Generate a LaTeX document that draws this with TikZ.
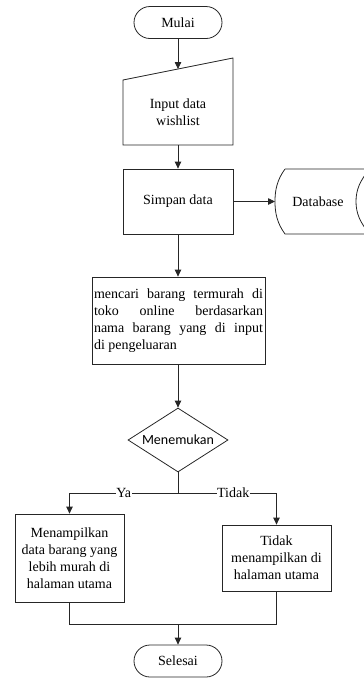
\documentclass[tikz,border=0pt]{standalone}
\usepackage{fontspec}
\setmainfont{Liberation Serif}
\newfontfamily\calibri{Carlito}
\usetikzlibrary{arrows.meta,shapes.geometric,calc}
\begin{document}
\begin{tikzpicture}[x=1pt,y=-1pt,
  every node/.style={font=\fontsize{14}{17}\selectfont, text=black},
  ln/.style={draw=black!85, line width=0.8pt},
  arr/.style={ln, -{Triangle[length=7pt,width=6.5pt]}},
  box/.style={ln, rectangle, inner sep=0pt, align=center},
  term/.style={ln, rectangle, rounded corners=16pt, inner sep=0pt, minimum width=88pt, minimum height=32pt},
  lbl/.style={fill=white, inner sep=0.5pt}]
\useasboundingbox (0,0) rectangle (364,678);
\clip (0,0) rectangle (364,678);

% Mulai
\node[term] (mulai) at (178,22.5) {Mulai};

% Manual input
\draw[ln] (123,145) -- (123,80) -- (233,58) -- (233,145) -- cycle;
\node[align=center, minimum width=110pt, minimum height=65pt, inner sep=0pt] (input) at (178,112.5) {Input data\\wishlist};
\coordinate (inputtop) at (178,69);

% Simpan data
\node[box, minimum width=110pt, minimum height=65pt] (simpan) at (178,201.5) {Simpan data};

% Database (stored data)
\draw[ln] (285,169) -- (370,169) .. controls (360,180) and (356,190) .. (356,201.5) .. controls (356,213) and (360,223) .. (370,234) -- (285,234) .. controls (277,223) and (275,213) .. (275,201.5) .. controls (275,190) and (277,180) .. (285,169);
\node (db) at (318,201.5) {Database};
\coordinate (dbleft) at (275,201.5);

% Mencari
\node[box, minimum width=173pt, minimum height=87pt] (cari) at (178.5,320.5)
 {\parbox{169pt}{\makebox[169pt][s]{mencari barang termurah di}\\
  \makebox[169pt][s]{toko online berdasarkan}\\
  \makebox[169pt][s]{nama barang yang di input}\\
  di pengeluaran}};

% Decision
\node[ln, diamond, minimum width=100pt, minimum height=64pt, inner sep=0pt, aspect=1.5625, font=\calibri\fontsize{14}{16}\selectfont] (dec) at (178,440) {Menemukan};
\coordinate (split) at (178,493);

% Result boxes
\node[box, minimum width=109pt, minimum height=88pt] (kiri) at (69.5,558) {Menampilkan\\data barang yang\\lebih murah di\\halaman utama};
\node[box, minimum width=109pt, minimum height=66pt] (kanan) at (276.5,558) {Tidak\\menampilkan di\\halaman utama};
\coordinate (merge) at (178,624);

% Selesai
\node[term] (selesai) at (178,661) {Selesai};

% Connectors
\draw[arr] (mulai.south) -- (inputtop);
\draw[arr] (input.south) -- (simpan.north);
\draw[arr] (simpan.east) -- (dbleft);
\draw[arr] (simpan.south) -- (cari.north -| simpan.south);
\draw[arr] (cari.south -| dec.north) -- (dec.north);
\draw[ln] (dec.south) -- (split);
\draw[arr] (split) -| node[lbl, pos=0.25] {Ya} (kiri.north);
\draw[arr] (split) -| node[lbl, pos=0.28] {Tidak} (kanan.north);
\draw[ln] (kiri.south) -- (kiri.south |- merge) -- (kanan.south |- merge) -- (kanan.south);
\draw[arr] (merge) -- (selesai.north);
\end{tikzpicture}
\end{document}
